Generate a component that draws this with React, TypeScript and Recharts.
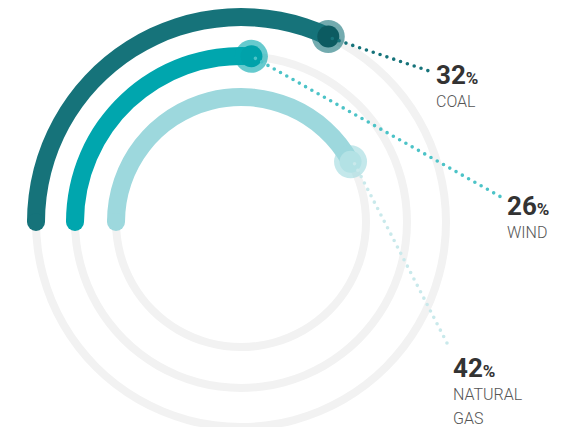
import { PieChart, Pie, Cell } from "recharts";

// energy mix
const categories = ["COAL", "WIND", "NATURAL GAS"];
const shares = [32, 26, 42];
const labelLines = [["COAL"], ["WIND"], ["NATURAL", "GAS"]];

const barColors = ["#16737a", "#00a6ae", "#9dd8dd"];
const dotColors = ["#16737a", "#4cc3c7", "#c9e9eb"];
const knobColors = ["#0c5b61", "#00a2aa", "#b3e2e5"];
const TRACK = "#f2f2f2";

const CX = 241;
const CY = 222;
const RINGS = [
  { inner: 196, outer: 214 },
  { inner: 157, outer: 175 },
  { inner: 116, outer: 134 },
];
// where each callout's text sits and where its dotted line stops
const CALLOUTS = [
  { x: 436, y: 84, lx: 429, ly: 71 },
  { x: 507, y: 215, lx: 501, ly: 197 },
  { x: 453, y: 377, lx: 447, ly: 343 },
];

const RAD = Math.PI / 180;

const polar = (cx: number, cy: number, r: number, angle: number) => ({
  x: cx + Math.cos(-angle * RAD) * r,
  y: cy + Math.sin(-angle * RAD) * r,
});

const makeLabel = (i: number) => (props: any) => {
  if (props.index !== 0) return null;
  const { cx, cy, innerRadius, outerRadius, startAngle, endAngle } = props;
  const r = (innerRadius + outerRadius) / 2;
  const half = (outerRadius - innerRadius) / 2;
  const s = polar(cx, cy, r, startAngle);
  const m = polar(cx, cy, r, endAngle);
  const c = CALLOUTS[i];
  return (
    <g key={`callout-${i}`}>
      {/* round cap where the bar starts */}
      <circle cx={s.x} cy={s.y} r={half} fill={barColors[i]} />
      <circle cx={m.x} cy={m.y} r={16.5} fill={barColors[i]} fillOpacity={0.6} />
      <circle cx={m.x} cy={m.y} r={11} fill={knobColors[i]} />
      <line
        x1={m.x + 4}
        y1={m.y + 2}
        x2={c.lx}
        y2={c.ly}
        stroke={dotColors[i]}
        strokeWidth={3.6}
        strokeLinecap="round"
        strokeDasharray="0 7.2"
      />
      <text x={c.x} y={c.y} fill="#333" fontFamily="Roboto" fontWeight={700}>
        <tspan fontSize={26}>{shares[i]}</tspan>
        <tspan fontSize={17}>%</tspan>
      </text>
      {labelLines[i].map((t, k) => (
        <text
          key={t}
          x={c.x}
          y={c.y + 23 + k * 24}
          fill="#555"
          fontFamily="Roboto"
          fontWeight={300}
          fontSize={16}
        >
          {t}
        </text>
      ))}
    </g>
  );
};

export default function App() {
  return (
    <div style={{ position: "absolute", left: 0, top: 0 }}>
      <PieChart width={564} height={427} margin={{ top: 0, right: 0, bottom: 0, left: 0 }}>
        {RINGS.map((ring, i) => (
          <Pie
            key={`track-${i}`}
            data={[{ name: "track", value: 100 }]}
            dataKey="value"
            cx={CX}
            cy={CY}
            innerRadius={(ring.inner + ring.outer) / 2 - 4}
            outerRadius={(ring.inner + ring.outer) / 2 + 4}
            startAngle={180}
            endAngle={-180}
            fill={TRACK}
            stroke="none"
            isAnimationActive={false}
          />
        ))}
        {categories.map((name, i) => (
          <Pie
            key={name}
            data={[
              { name, value: shares[i] },
              { name: "rest", value: 100 - shares[i] },
            ]}
            dataKey="value"
            cx={CX}
            cy={CY}
            innerRadius={RINGS[i].inner}
            outerRadius={RINGS[i].outer}
            startAngle={180}
            endAngle={-180}
            stroke="none"
            label={makeLabel(i)}
            labelLine={false}
            isAnimationActive={false}
          >
            <Cell fill={barColors[i]} />
            <Cell fill="transparent" />
          </Pie>
        ))}
      </PieChart>
    </div>
  );
}
